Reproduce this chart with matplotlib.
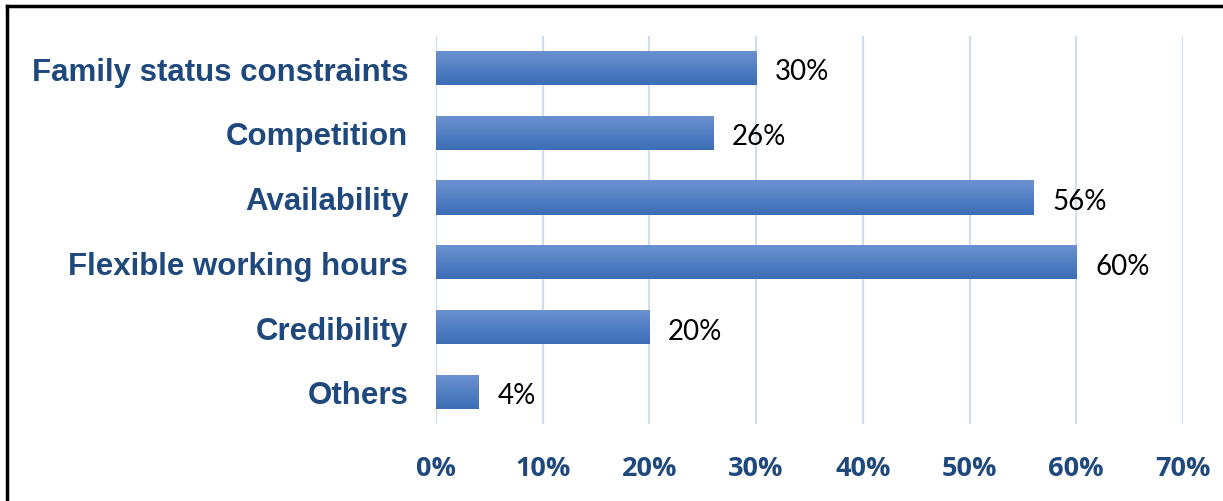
import matplotlib.pyplot as plt
import numpy as np
from matplotlib.lines import Line2D

categories = ["Family status constraints", "Competition", "Availability",
              "Flexible working hours", "Credibility", "Others"]
values = [30, 26, 56, 60, 20, 4]
xticks = [0, 10, 20, 30, 40, 50, 60, 70]

label_blue = "#1f497d"
grid_blue = "#cfdff0"

fig = plt.figure(figsize=(12.23, 5.02), dpi=100)
ax = fig.add_axes([0.3565, 0.153, 0.6108, 0.774])

ypos = np.arange(len(categories))
bar_h = 0.53

# gradient fill: lighter at top, darker at bottom
grad = np.linspace(0, 1, 64).reshape(-1, 1)
top_c = np.array([0x6c, 0x92, 0xd1]) / 255
bot_c = np.array([0x3b, 0x6e, 0xb6]) / 255
grad_img = top_c + (bot_c - top_c) * grad[:, :, None] * np.ones((1, 2, 1))

bars = ax.barh(ypos, values, height=bar_h, color="none", zorder=3)
for b in bars:
    x0, y0 = b.get_x(), b.get_y()
    w, h = b.get_width(), b.get_height()
    im = ax.imshow(grad_img, extent=[x0, x0 + w, y0 + h, y0], aspect="auto",
                   origin="upper", zorder=3, interpolation="bilinear")
    im.set_clip_path(b)

for y, v in zip(ypos, values):
    ax.annotate(f"{v}%", (v, y), xytext=(13.5, -2.5), textcoords="offset points",
                va="center", ha="left", fontsize=20, family="Lato", color="black")

ax.set_xlim(0, 70)
ax.set_ylim(len(categories) - 0.5, -0.5)
ax.set_xticks(xticks)
ax.set_xticklabels([f"{t}%" for t in xticks], fontsize=19.5, fontweight="bold",
                   family="Open Sans", color=label_blue)
ax.set_yticks(ypos)
ax.set_yticklabels(categories, fontsize=22.5, fontweight="bold",
                   family="Liberation Sans", color=label_blue)
ax.tick_params(axis="both", length=0)
ax.tick_params(axis="x", pad=22)
ax.tick_params(axis="y", pad=20)

ax.xaxis.grid(True, color=grid_blue, linewidth=1.6)
ax.set_axisbelow(True)
for s in ax.spines.values():
    s.set_visible(False)

# outer frame lines (left and top)
fig.add_artist(Line2D([6.5 / 1223, 6.5 / 1223], [0, 1 - 6.5 / 502],
                      transform=fig.transFigure, color="black", linewidth=2.5))
fig.add_artist(Line2D([6.5 / 1223, 1], [1 - 6.5 / 502, 1 - 6.5 / 502],
                      transform=fig.transFigure, color="black", linewidth=2.5))

fig.savefig("out.png", dpi=100)
